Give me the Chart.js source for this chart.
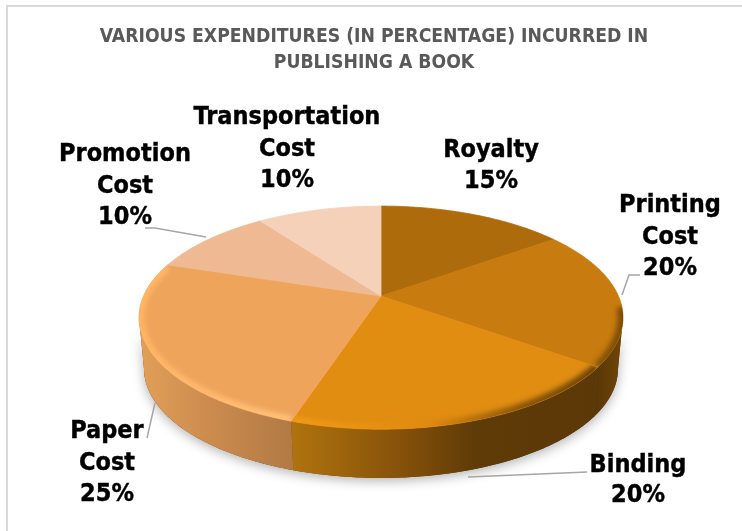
<!DOCTYPE html>
<html><head><meta charset="utf-8">
<style>
html,body{margin:0;padding:0;background:#fff;overflow:hidden}
#wrap{position:relative;width:742px;height:531px}
#frame{position:absolute;left:6px;top:5px;right:-4px;bottom:-4px;border:2px solid #d9d9d9}
canvas{position:absolute;left:0;top:0}
</style>
<script src="https://cdn.jsdelivr.net/npm/chart.js@4"></script>
</head><body>
<div id="wrap"><div id="frame"></div><canvas id="c" width="742" height="531"></canvas></div>
<script>
const titleLines = ['VARIOUS EXPENDITURES (IN PERCENTAGE) INCURRED IN', 'PUBLISHING A BOOK'];
const categories = ['Royalty', 'Printing Cost', 'Binding', 'Paper Cost', 'Promotion Cost', 'Transportation Cost'];
const shares = [15, 20, 20, 25, 10, 10];
const topColors = ['#AD6B0B', '#C87B0E', '#E08D12', '#EFA45C', '#EFBA93', '#F4D1B8'];

// styling of the 3-D body
const sideStops = [null,
  [[0, '#5a3806'], [1, '#704608']],
  [[0, '#b0740e'], [0.35, '#87520a'], [0.6, '#5f3b07'], [1, '#5b3807']],
  [[0, '#e29f58'], [0.45, '#cc8c4e'], [1, '#b27a45']],
  null, null];
const bevelStops = [null,
  [[0, '#8a5508'], [1, '#7a4c07']],
  [[0, '#f29a14'], [0.45, '#e08a10'], [0.75, '#8a5508'], [1, '#6f4507']],
  [[0, '#ffb564'], [1, '#ffc07a']],
  null, null];
const PERSPECTIVE = 0.193, STRETCH_X = 1.583, STRETCH_Y = 0.716, DEPTH = 0.347, BASE_SCALE = 0.98, SHIFT_X = 7;

const labelLayout = [
  {x: 491, y: 150, lh: 31},
  {x: 670, y: 205.5, lh: 31.5},
  {x: 638, y: 465, lh: 30},
  {x: 107, y: 431.5, lh: 31.5},
  {x: 125, y: 154.5, lh: 31.5},
  {x: 287, y: 117.5, lh: 31.5}
];
const leaders = [
  null,
  [[622, 295], [629, 275], [640, 275]],
  [[468, 477], [587, 472]],
  [[155, 403], [147, 438]],
  [[145, 228], [155, 228], [206, 237]],
  null
];

function proj(el, th, r) {
  const u = Math.cos(th) * r, v = -Math.sin(th) * r, d = 1 + PERSPECTIVE * v;
  return [el.x + SHIFT_X + el.outerRadius * STRETCH_X * u / d,
          el.y - el.outerRadius * STRETCH_Y * v / d];
}
function gradient(ctx, x0, x1, stops) {
  const g = ctx.createLinearGradient(x0, 0, x1, 0);
  stops.forEach(s => g.addColorStop(s[0], s[1]));
  return g;
}
function rimPoints(el, a, b, r, dy) {
  const pts = [], n = Math.max(2, Math.ceil(Math.abs(b - a) * 80));
  for (let i = 0; i <= n; i++) {
    const p = proj(el, a + (b - a) * i / n, r);
    pts.push([p[0], p[1] + dy]);
  }
  return pts;
}
function sidePath(ctx, el, a, b) {
  const dy = el.outerRadius * DEPTH;
  ctx.beginPath();
  rimPoints(el, a, b, 1, 0).forEach((p, i) => i ? ctx.lineTo(p[0], p[1]) : ctx.moveTo(p[0], p[1]));
  rimPoints(el, b, a, BASE_SCALE, dy).forEach(p => ctx.lineTo(p[0], p[1]));
  ctx.closePath();
}

class Arc3D extends Chart.ArcElement {
  static id = 'arc3d';
  draw(ctx) {
    const i = this.$context ? this.$context.dataIndex : 0;
    ctx.save();
    ctx.beginPath();
    const c = proj(this, 0, 0);
    ctx.moveTo(c[0], c[1]);
    rimPoints(this, this.startAngle, this.endAngle, 1, 0).forEach(p => ctx.lineTo(p[0], p[1]));
    ctx.closePath();
    ctx.fillStyle = this.options.backgroundColor;
    ctx.strokeStyle = this.options.backgroundColor;
    ctx.lineWidth = 0.8;
    ctx.stroke();
    ctx.fill();
    if (bevelStops[i]) {
      ctx.clip();
      const a = Math.max(this.startAngle, 0.1), b = Math.min(this.endAngle, Math.PI + 0.3);
      const pts = rimPoints(this, a, b, 1, 0);
      const xs = pts.map(p => p[0]), x0 = Math.min(...xs), x1 = Math.max(...xs);
      ctx.filter = 'blur(2.5px)';
      ctx.strokeStyle = gradient(ctx, x0, x1, bevelStops[i]);
      ctx.lineWidth = 11;
      ctx.beginPath();
      pts.forEach((p, k) => k ? ctx.lineTo(p[0], p[1]) : ctx.moveTo(p[0], p[1]));
      ctx.stroke();
      ctx.filter = 'none';
    }
    ctx.restore();
  }
}
class Pie3D extends Chart.PieController {
  static id = 'pie3d';
  static defaults = {dataElementType: 'arc3d'};
}
Chart.register(Arc3D, Pie3D);

const body3d = {
  id: 'body3d',
  beforeDatasetsDraw(chart) {
    const ctx = chart.ctx, els = chart.getDatasetMeta(0).data;
    const near0 = Math.asin(PERSPECTIVE), near1 = Math.PI - near0;
    // soft cast shadow
    ctx.save();
    ctx.shadowColor = 'rgba(0,0,0,0.30)';
    ctx.shadowBlur = 12;
    ctx.shadowOffsetY = 3;
    ctx.fillStyle = '#6a4208';
    sidePath(ctx, els[0], near0, near1);
    ctx.fill();
    ctx.restore();
    els.forEach((el, i) => {
      if (!sideStops[i]) return;
      const a = Math.max(el.startAngle, near0), b = Math.min(el.endAngle, near1);
      if (b <= a) return;
      const pts = rimPoints(el, a, b, 1, 0), xs = pts.map(p => p[0]);
      ctx.save();
      ctx.fillStyle = gradient(ctx, Math.min(...xs), Math.max(...xs), sideStops[i]);
      sidePath(ctx, el, a, b);
      ctx.fill();
      ctx.restore();
    });
  },
  afterDatasetsDraw(chart) {
    const ctx = chart.ctx;
    ctx.save();
    ctx.strokeStyle = '#a6a6a6';
    ctx.lineWidth = 1.5;
    leaders.forEach(l => {
      if (!l) return;
      ctx.beginPath();
      l.forEach((p, k) => k ? ctx.lineTo(p[0], p[1]) : ctx.moveTo(p[0], p[1]));
      ctx.stroke();
    });
    ctx.font = 'bold 25px "DejaVu Sans Condensed", "DejaVu Sans"';
    ctx.fillStyle = '#000';
    ctx.strokeStyle = '#000';
    ctx.lineWidth = 0.4;
    ctx.textAlign = 'center';
    ctx.textBaseline = 'middle';
    categories.forEach((name, i) => {
      const lines = name.split(' ').concat(shares[i] + '%'), L = labelLayout[i];
      lines.forEach((t, k) => {
        ctx.fillText(t, L.x, L.y + k * L.lh);
        ctx.strokeText(t, L.x, L.y + k * L.lh);
      });
    });
    ctx.restore();
  }
};

new Chart(document.getElementById('c'), {
  type: 'pie3d',
  data: {labels: categories, datasets: [{data: shares, backgroundColor: topColors, borderWidth: 0, radius: 150}]},
  options: {
    responsive: false,
    animation: false,
    rotation: 0,
    layout: {padding: {left: 6, right: 0, top: 24, bottom: 15}},
    plugins: {
      legend: {display: false},
      tooltip: {enabled: false},
      title: {
        display: true, text: titleLines, color: '#595959',
        font: {family: '"DejaVu Sans Condensed", "DejaVu Sans"', weight: 'bold', size: 19.2, lineHeight: 1.36},
        padding: {top: 0, bottom: 0}
      }
    }
  },
  plugins: [body3d]
});
</script>
</body></html>
